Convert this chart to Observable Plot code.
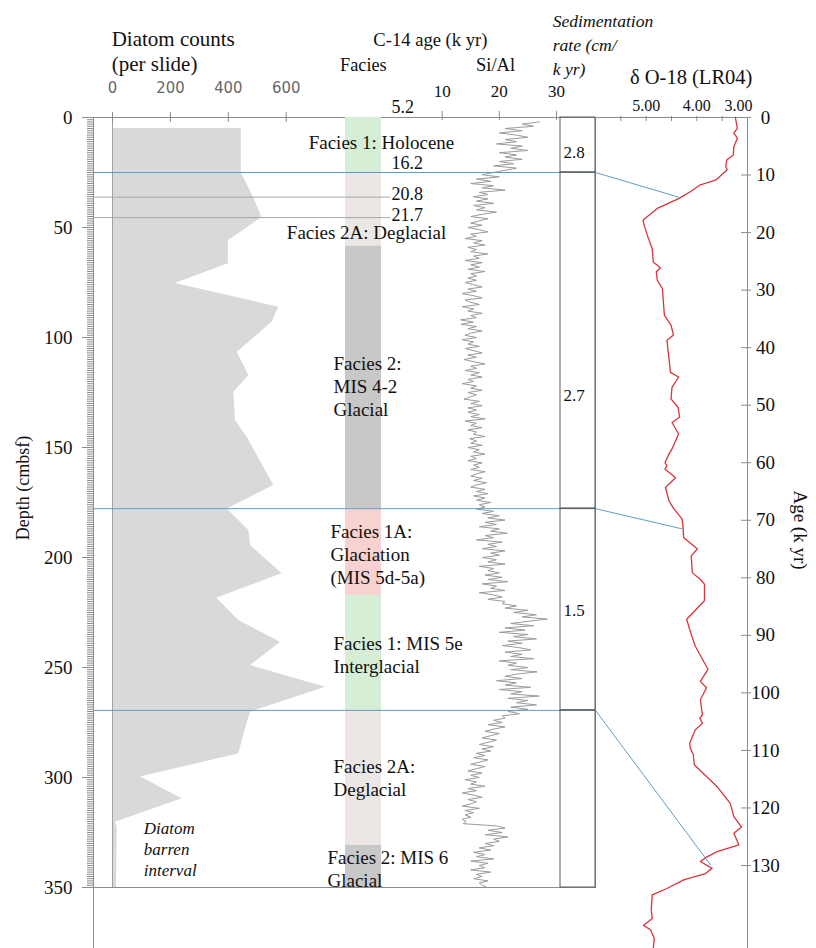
<!DOCTYPE html>
<html><head><meta charset="utf-8">
<script src="https://cdn.jsdelivr.net/npm/d3@7"></script>
<script src="https://cdn.jsdelivr.net/npm/@observablehq/plot@0.6"></script>
<style>
html,body{margin:0;padding:0;background:#fff;}
#chart{position:relative;width:816px;height:948px;overflow:hidden;font-family:"Liberation Serif","Times New Roman",serif;color:#111;}
#chart svg{position:absolute;left:0;top:0;}
.lbl{position:absolute;white-space:pre;line-height:0;}
.rot{position:absolute;white-space:pre;line-height:1;}
</style></head><body><div id="chart"></div>
<script>
// ---------------- DATA ----------------
// Diatom counts (per slide) vs depth (cmbsf)
const diatomDepth = [5, 25, 36.2, 45.5, 56, 66.5, 75.5, 86.2, 93, 106.7, 117.3, 125, 137.7, 145.3, 167.3, 177.9, 187.7, 194.5, 207.4, 218.5, 228.6, 238.5, 249.1, 259, 270.3, 280.2, 289.2, 299.8, 309.7, 320.3, 322.5, 350];
const diatomCount = [445, 445, 487, 516, 400, 400, 217, 574, 552, 431, 471, 419, 425, 465, 557, 396, 471, 477, 586, 360, 436, 580, 477, 736, 477, 454, 437, 97, 241, 10, 16, 14];
const diatomTicks = [0, 200, 400, 600];

// Facies intervals (depth, cm)
const faciesTop    = [0, 25, 58.5, 177.8, 217.3, 269.5, 330.9];
const faciesBottom = [25, 58.5, 177.8, 217.3, 269.5, 330.9, 350];
const faciesType   = ["1", "2A", "2", "1A", "1", "2A", "2"];
const faciesTypes  = ["1", "1A", "2", "2A"];
const faciesLabelText = ["Facies 1: Holocene", "Facies 2A: Deglacial", "Facies 2:\nMIS 4-2\nGlacial", "Facies 1A:\nGlaciation\n(MIS 5d-5a)", "Facies 1: MIS 5e\nInterglacial", "Facies 2A:\nDeglacial", "Facies 2: MIS 6\nGlacial"];
const faciesLabelDepth = [11.2, 52.1, 121.8, 198.2, 243.8, 299.9, 341.1];

// C-14 ages (k yr) at depth (cm)
const c14Age   = [5.2, 16.2, 20.8, 21.7];
const c14Depth = [0, 25, 36.2, 45.5];

// Si/Al, sampled every 1 cm from 2 cm down to 350 cm
const siAlStartDepth = 2;
const siAl = [
 27, 24, 26,
 21, 24, 20, 23, 25, 21, 23, 19.5, 24, 22, 25, 20, 23, 21, 24, 20, 22.5, 19, 23, 21,
 19, 17, 20, 16, 18.5, 15, 19, 17, 21, 16.5, 18, 15.5,
 18, 16, 19, 15.5, 17.5, 16, 19.5, 17, 15, 18, 16.5,
 15, 17, 14.5, 16.5, 18, 15, 16, 14, 17, 15.5, 17.5, 14.5, 16, 15, 18, 15.5, 16.5, 14, 17, 15, 16.5, 14.5, 17.5, 15, 16, 14.5,
 16, 14, 15.5, 17, 14.5, 16, 13.5, 15.5, 17, 14, 15, 16.5, 13.5, 15.5, 14.5, 17, 15, 16, 13.2, 15.5, 13.3, 16, 14.5, 17, 15, 14, 16, 13.5, 15.5, 14.5,
 16.5, 14, 15.5, 17, 14.5, 16, 13.8, 15.5, 17.5, 15, 16, 14, 16.5, 15, 17, 14.5, 15.5, 13.5, 16, 15, 17, 14.5, 16, 15, 13.8, 16.5, 15, 17, 14.5, 16,
 14.5, 16.5, 15, 17.5, 14, 16, 15, 17, 14.5, 16, 15.5, 17.5, 14.8, 16, 15, 17, 14.5, 16.5, 15.5, 17.5, 15, 16, 14.5, 17, 15.5, 16.5, 15, 17.5, 16, 15, 17, 15.5, 17.8, 16, 15, 17.5, 16,
 18, 15.5, 17.5, 16, 18.5, 16.5, 17.5, 16,
 19, 17, 20, 18, 21, 17.5, 19.5, 16.5, 20, 18.5, 21.4, 17.5, 19, 16, 20.5, 18, 19.5, 17, 21, 18.5, 20, 17, 19.5, 18, 21, 16.5, 19, 18, 20,
 17.5, 20.5, 18, 21.5, 17, 19.5, 18.5, 21, 16.5, 19, 20.5, 18, 21,
 20.5, 23, 21, 25, 22.5, 26.5, 24, 28.4, 25,
 22, 26, 21, 24.5, 20, 25, 22.5, 26.5, 21.5, 24, 20.5, 23.5, 25.5, 21, 24, 22, 26, 20, 23, 21.5, 25, 22, 26.6, 23, 21,
 24, 19.5, 23, 21, 25.5, 20, 24, 22, 27, 21.5, 25, 23, 26.5, 22,
 25, 21.5, 23.5, 20.5,
 21, 19, 20.5, 18, 21, 19, 17.5, 20, 18.5, 17, 19.5, 18, 16.5, 19, 17, 18.5, 16, 17.5, 15.5, 18, 16.5, 15, 17.5,
 16, 14.5, 17, 15, 16.5, 14, 16, 15, 17.5, 14.5, 16, 13.5, 15.5, 17, 14.5, 16, 15, 13.5, 16.5, 14, 15.5, 14, 15, 13.5, 14.2, 13.7,
 19.5, 21, 18, 20.5, 17.5, 21.5, 19, 20, 17.5,
 19, 16.5, 18.5, 15.5, 17.5, 16, 19, 15, 18, 16.5, 17.5, 15, 18.5, 16, 17, 15.5, 18, 16.5, 17, 17.9
];
const siAlTicks = [10, 20, 30];

// Sedimentation rate (cm/k yr) intervals
const sedTop    = [0, 25, 177.8, 269.5];
const sedBottom = [25, 177.8, 269.5, 350];
const sedRate   = [2.8, 2.7, 1.5, null];
const sedLabelDepth = [15.8, 126.4, 224, null];

// delta O-18 (LR04) vs age (k yr)
const o18Age = [0,1.9,2.7,3.6,5.1,6.5,7.4,8.5,9.1,10.9,11.7,12.9,14.1,15.8,17.8,18.4,20.4,22.8,25.1,26.1,26.8,28.3,29.7,34.4,36.1,37.8,38.7,41.9,44.3,45.1,46.9,48.9,50.4,52.1,53.0,55.0,57.6,58.5,60.0,60.5,61.1,62.6,64.3,66.6,67.8,69.8,71.5,73.0,75.0,76.2,79.1,80.3,81.1,84.0,87.2,89.3,91.9,95.9,98.0,99.1,101.2,103.8,104.4,105.3,106.4,108.7,109.6,110.7,112.5,116.3,119.2,121.5,123.3,124.4,126.4,127.6,128.5,129.3,130.5,131.4,132.5,134.0,135.1,137.7,139.2,140.4,141.2,142.7,144.4];
const o18Val = [3.24,3.20,3.27,3.20,3.27,3.28,3.41,3.43,3.40,3.63,3.93,4.13,4.36,4.78,5.06,5.05,4.98,4.88,4.86,4.72,4.80,4.78,4.68,4.64,4.51,4.46,4.59,4.55,4.52,4.36,4.49,4.51,4.37,4.34,4.49,4.36,4.49,4.55,4.63,4.59,4.63,4.42,4.62,4.55,4.47,4.29,4.27,4.26,3.99,4.11,4.09,3.93,3.85,3.85,4.20,4.13,4.03,3.78,3.93,3.81,3.93,3.89,3.94,3.89,4.03,4.14,4.13,4.07,4.05,3.60,3.34,3.27,3.12,3.27,3.17,3.60,3.80,3.93,3.70,3.83,4.26,4.59,4.88,4.90,4.88,5.05,4.91,4.84,4.86];
const o18Ticks = [3.5, 4, 4.5, 5, 5.5];
const o18Labels = [5, 4, 3];
const ageTicks = [0,10,20,30,40,50,60,70,80,90,100,110,120,130];

// Depth-to-age tie points
const tieDepth = [25, 177.8, 269.5];
const tieAge   = [13.85, 71.5, 130.0];
const tieO18   = [4.356, 4.289, 3.72];

const depthMajor = [0, 50, 100, 150, 200, 250, 300, 350];

// ---------------- LAYOUT / STYLE ----------------
const L = {W: 816, H: 948, top: 117, bottom: 887, left: 93, right: 595, tickOuter: 82,
  diatomRange: [112, 285.7], facies: [345, 381], c14Right: 390, siAl: [384.5, 556],
  sed: [560, 595], o18: [595, 747], ageRange: [117, 865]};
const SERIF = "Liberation Serif, Times New Roman, serif";
const NARROW = "Liberation Sans Narrow, DejaVu Sans Condensed, Arial Narrow, sans-serif";
const GRAY = "#8c8c8c", BLUE = "#5e9ec4", RED = "#d8363c";
const faciesColors = ["#d6edd6", "#f8d2d0", "#c8c8c8", "#ece7e5"];
const faciesLabelAnchor = ["middle", "middle", "start", "start", "start", "start", "start"];
const faciesLabelDx = [18, 3, -30, -33, -30, -30, -36];
const c14LabelDy = [-10, -9, -2.5, -2];

// ---------------- BUILD ROWS ----------------
const diatomRows = diatomDepth.map((d, i) => ({depth: d, count: diatomCount[i]}));
const faciesRows = faciesTop.map((t, i) => ({top: t, bottom: faciesBottom[i], type: faciesType[i]}));
const faciesLabels = faciesLabelText.map((t, i) => ({text: t, y: faciesLabelDepth[i], anchor: faciesLabelAnchor[i], dx: faciesLabelDx[i]}));
const c14Rows = c14Age.map((a, i) => ({age: a, depth: c14Depth[i], dy: c14LabelDy[i]}));
const siAlRows = siAl.map((v, i) => ({depth: siAlStartDepth + i, v}));
const sedRows = sedTop.map((t, i) => ({top: t, bottom: sedBottom[i], rate: sedRate[i], labelDepth: sedLabelDepth[i]}));
const o18Rows = o18Age.map((a, i) => ({age: a, v: o18Val[i]}));
const tieRows = tieDepth.map((d, i) => ({depth: d, age: tieAge[i], v: tieO18[i]}));

const base = {width: L.W, height: L.H, style: {background: "transparent", overflow: "visible"}};
const depthY = {domain: [0, 350], range: [L.top, L.bottom], axis: null};
const vM = {marginTop: L.top, marginBottom: L.H - L.bottom};
const chart = document.getElementById("chart");

// Diatom panel + main frame
const depthPlot = Plot.plot({...base, ...vM, marginLeft: L.left, marginRight: L.W - L.right,
  x: {domain: [0, 600], range: L.diatomRange, axis: null}, y: depthY,
  marks: [
    Plot.areaX(diatomRows, {x: "count", y: "depth", fill: "#d9d9d9"}),
    Plot.ruleX([0], {stroke: "#a0a0a0"}),
    Plot.frame({stroke: GRAY}),
    Plot.ruleX(diatomTicks, {y1: 0, y2: 0, insetTop: -5, insetBottom: -5, stroke: GRAY}),
    Plot.text(diatomTicks, {x: d => d, y: 0, dy: -30, text: d => String(d), fontFamily: NARROW, fontSize: 16.5, fill: "#666"}),
    Plot.text(["Diatom\nbarren\ninterval"], {x: 108, y: 332.3, textAnchor: "start", lineHeight: 1.24, fontFamily: SERIF, fontStyle: "italic", fontSize: 17, fill: "#111"})
  ]});

// Depth axis
const axisPlot = Plot.plot({...base, marginTop: L.top, marginBottom: 0, marginLeft: L.tickOuter, marginRight: L.W - L.left,
  x: {domain: [0, 1], axis: null}, y: depthY,
  marks: [
    Plot.ruleY(d3.range(0, 351, 1), {insetLeft: 5, stroke: GRAY}),
    Plot.ruleY(depthMajor, {stroke: GRAY}),
    Plot.ruleX([1], {stroke: GRAY}),
    Plot.text(depthMajor, {y: d => d, frameAnchor: "left", textAnchor: "end", dx: -10, text: d => String(d), fontFamily: SERIF, fontSize: 19, fill: "#111"})
  ]});

// Facies column
const faciesPlot = Plot.plot({...base, ...vM, marginLeft: L.facies[0], marginRight: L.W - L.facies[1],
  x: {type: "band", domain: ["facies"], padding: 0, axis: null}, y: depthY,
  color: {type: "ordinal", domain: faciesTypes, range: faciesColors},
  marks: [
    Plot.barY(faciesRows, {x: () => "facies", y1: "top", y2: "bottom", fill: "type"}),
    ...faciesLabels.map(l => Plot.text([l], {x: () => "facies", y: "y", text: "text", textAnchor: l.anchor, dx: l.dx, lineHeight: 1.2, fontFamily: SERIF, fontSize: 19, fill: "#111"}))
  ]});

// C-14 dates
const c14Plot = Plot.plot({...base, ...vM, marginLeft: L.left, marginRight: L.W - L.c14Right, y: depthY,
  marks: [
    Plot.ruleY(c14Rows.filter(d => d.depth > 25), {y: "depth", stroke: "#a6a6a6"}),
    ...c14Rows.map(r => Plot.text([r], {y: "depth", frameAnchor: "right", textAnchor: "start", dx: 1, dy: r.dy, text: d => d.age.toFixed(1), fontFamily: SERIF, fontSize: 18, fill: "#111"}))
  ]});

// Si/Al
const siAlPlot = Plot.plot({...base, ...vM, marginLeft: L.siAl[0], marginRight: L.W - L.siAl[1],
  x: {domain: [0, 30], axis: null}, y: depthY,
  marks: [
    Plot.line(siAlRows, {x: "v", y: "depth", stroke: "#9b9b9b", strokeWidth: 1}),
    Plot.ruleX(siAlTicks, {y1: 0, y2: 0, insetTop: -6, insetBottom: -3, stroke: GRAY}),
    Plot.text(siAlTicks, {x: d => d, y: 0, dy: -26, text: d => String(d), fontFamily: SERIF, fontSize: 17, fill: "#111"})
  ]});

// Tie lines (horizontal)
const tiePlot = Plot.plot({...base, ...vM, marginLeft: L.left, marginRight: L.W - L.right, y: depthY,
  marks: [Plot.ruleY(tieRows, {y: "depth", stroke: BLUE, strokeWidth: 1})]});

// Sedimentation rate column
const sedPlot = Plot.plot({...base, ...vM, marginLeft: L.sed[0], marginRight: L.W - L.sed[1],
  x: {type: "band", domain: ["rate"], padding: 0, axis: null}, y: depthY,
  marks: [
    Plot.barY(sedRows, {x: () => "rate", y1: "top", y2: "bottom", fill: "none", stroke: "#5a5a5a"}),
    Plot.text(sedRows.filter(d => d.rate != null), {x: () => "rate", y: "labelDepth", text: d => d.rate.toFixed(1), dx: -4, fontFamily: SERIF, fontSize: 17, fill: "#111"})
  ]});

// delta O-18 vs age
const o18Plot = Plot.plot({...base, marginTop: L.top, marginBottom: 0, marginLeft: L.o18[0], marginRight: L.W - L.o18[1],
  x: {domain: [6, 3], axis: null}, y: {domain: [0, 130], range: L.ageRange, axis: null},
  marks: [
    Plot.ruleY([0], {stroke: GRAY}),
    Plot.ruleX([3], {stroke: GRAY}),
    Plot.ruleX(o18Ticks, {y1: 0, y2: 0, insetTop: -1, insetBottom: -4, stroke: GRAY}),
    Plot.text(o18Labels.filter(d => d !== 3), {x: d => d, y: 0, dy: -12, text: d => d.toFixed(2), fontFamily: SERIF, fontSize: 16, fill: "#111"}),
    Plot.text(o18Labels.filter(d => d === 3), {x: d => d, y: 0, dy: -12, dx: -9, text: d => d.toFixed(2), fontFamily: SERIF, fontSize: 16, fill: "#111"}),
    Plot.ruleY(ageTicks, {x1: 3, x2: 3, insetLeft: -6, insetRight: -4, stroke: GRAY}),
    Plot.text(ageTicks, {x: 3, y: d => d, dx: 18, text: d => String(d), fontFamily: SERIF, fontSize: 19, fill: "#111"}),
    Plot.line(o18Rows, {x: "v", y: "age", stroke: RED, strokeWidth: 1.3})
  ]});

// Diagonal tie lines: depth scale -> age/delta O-18 scales
const yDepth = tiePlot.scale("y"), xO18 = o18Plot.scale("x"), yAge = o18Plot.scale("y");
const links = tieRows.map(d => ({
  x1: xO18.apply(xO18.domain[0]), y1: yDepth.apply(d.depth),
  x2: xO18.apply(d.v), y2: yAge.apply(d.age)}));
const linkPlot = Plot.plot({...base, x: {type: "identity", axis: null}, y: {type: "identity", axis: null},
  marks: [Plot.link(links, {x1: "x1", y1: "y1", x2: "x2", y2: "y2", stroke: BLUE, strokeWidth: 1})]});

[depthPlot, axisPlot, faciesPlot, c14Plot, siAlPlot, tiePlot, sedPlot, o18Plot, linkPlot].forEach(p => chart.appendChild(p));

// Headers and axis titles
function label(text, x, baseline, size, opts = {}) {
  const el = document.createElement("div");
  el.className = "lbl";
  el.textContent = text;
  el.style.left = x + "px";
  el.style.top = (baseline - 0.3375 * size) + "px";
  el.style.fontSize = size + "px";
  if (opts.italic) el.style.fontStyle = "italic";
  chart.appendChild(el);
}
function rotLabel(text, cx, cy, size, deg) {
  const el = document.createElement("div");
  el.className = "rot";
  el.textContent = text;
  el.style.left = cx + "px";
  el.style.top = cy + "px";
  el.style.fontSize = size + "px";
  el.style.transform = `translate(-50%,-50%) rotate(${deg}deg)`;
  chart.appendChild(el);
}
label("Diatom counts", 111.7, 46, 21);
label("(per slide)", 111.7, 70.7, 21);
label("C-14 age (k yr)", 373.3, 46, 18.6);
label("Facies", 340, 71, 18.3);
label("Si/Al", 476, 71, 18.5);
label("Sedimentation", 552.7, 27, 17.6, {italic: true});
label("rate (cm/", 552.7, 51, 17.6, {italic: true});
label("k yr)", 552.7, 75, 17.6, {italic: true});
label("\u03b4 O-18 (LR04)", 630, 83.5, 20.5);
rotLabel("Depth (cmbsf)", 23.3, 488, 18, -90);
rotLabel("Age (k yr)", 800, 530, 19, 90);
</script></body></html>
